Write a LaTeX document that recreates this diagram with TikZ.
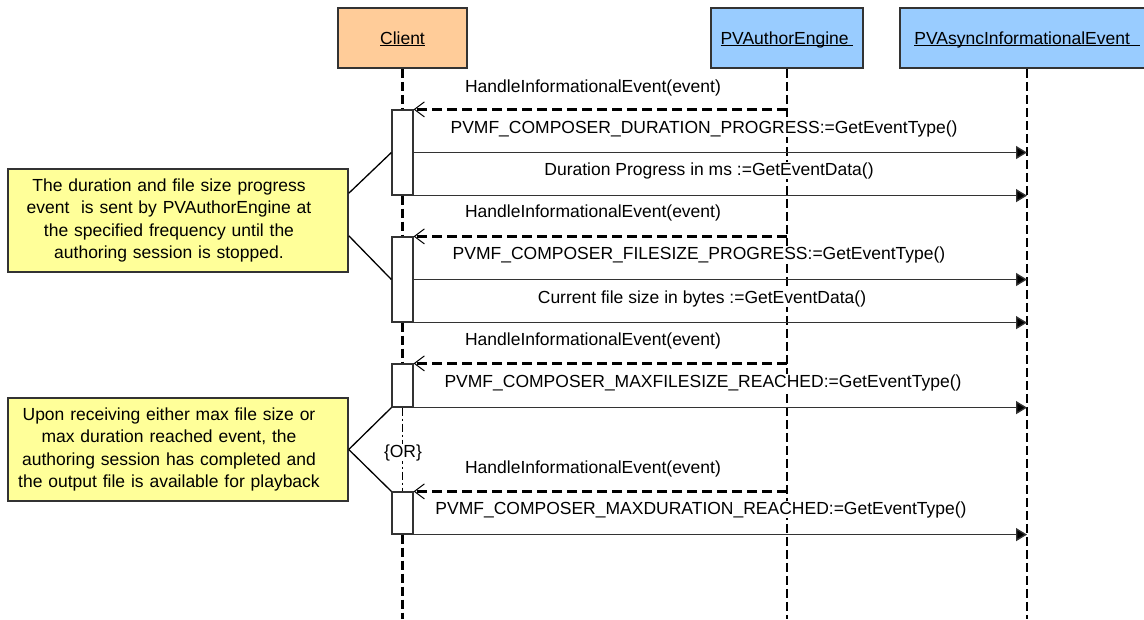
\documentclass[tikz,border=0pt]{standalone}
\usepackage{fontspec}
\setmainfont{Liberation Sans}
\usepackage{tikz}
\usetikzlibrary{arrows.meta, positioning}

\definecolor{clientorange}{HTML}{FFCC99}
\definecolor{objblue}{HTML}{99CCFF}
\definecolor{noteyellow}{HTML}{FFFF99}
\definecolor{edgegray}{HTML}{333333}

% underlined participant name, rule sits just under the baseline
\newcommand{\headname}[1]{\setbox0\hbox{#1}\rlap{\rule[-1.6pt]{\wd0}{0.9pt}}\box0}

\begin{document}
\begin{tikzpicture}[x=1pt, y=-1pt,
    font=\fontsize{17.5pt}{22.3pt}\selectfont,
    head/.style={draw=edgegray, line width=1.5pt, rectangle, minimum height=60pt, text height=12.5pt, text depth=0pt},
    act/.style={draw=edgegray, fill=white, line width=1.2pt, rectangle, minimum width=21pt, inner sep=0pt},
    note/.style={draw=edgegray, fill=noteyellow, line width=1.5pt, rectangle, minimum width=340pt, minimum height=103pt, inner sep=0pt, text width=340pt,
        execute at begin node={\parindent=0pt\leftskip=0pt plus 1fil\rightskip=18pt plus 1fil\parfillskip=0pt}},
    lbl/.style={anchor=base, inner sep=0pt, fill=white},
    life/.style={line width=2.4pt, dash pattern=on 9pt off 4pt},
    orline/.style={line width=1pt, dash pattern=on 8pt off 3pt on 2pt off 3pt},
    conn/.style={line width=1.3pt},
    ret/.style={line width=2.2pt, dash pattern=on 10pt off 5pt, -{Straight Barb[length=10pt, width=15pt, line width=1pt]}},
    call/.style={line width=1.3pt, draw=black!80, -{Triangle[length=11pt, width=13pt, fill=black]}}]

    \useasboundingbox (0,0) rectangle (1144,619);
    \clip (0,0) rectangle (1144,619);

    % Participants
    \node (client) [head, fill=clientorange, minimum width=129pt] at (402.5,38) {\headname{Client}};
    \node (aeng) [head, fill=objblue, minimum width=152pt] at (787,38) {\headname{PVAuthorEngine\ }};
    \node (async) [head, fill=objblue, minimum width=254pt] at (1027,38) {\headname{PVAsyncInformationalEvent\ \ }};
    \coordinate (bottom) at (0,619);

    % Activations on the client lifeline
    \node (act1) [act, minimum height=85pt] at (402.5,152.5) {};
    \node (act2) [act, minimum height=85pt] at (402.5,279.5) {};
    \node (act3) [act, minimum height=43pt] at (402.5,385.5) {};
    \node (act4) [act, minimum height=42pt] at (402.5,513) {};

    % Lifelines
    \foreach \a/\b in {client.south/act1.north, act1.south/act2.north, act2.south/act3.north}
        \draw[life] (\a) -- (\b);
    \draw[orline] (act3.south) -- (act4.north);
    \draw[life] (act4.south) -- (act4.south |- bottom);
    \draw[life] (aeng.south) -- (aeng.south |- bottom);
    \draw[life] (async.south) -- (async.south |- bottom);

    % Notes
    \node (note1) [note] at (178,220.5) {The duration and file size progress\\ event\ \ is sent by PVAuthorEngine at\\ the specified frequency until the\\ authoring session is stopped.};
    \node (note2) [note] at (178,449.5) {Upon receiving either max file size or\\ max duration reached event, the\\ authoring session has completed and\\ the output file is available for playback};

    \draw[conn] (note1.north east) ++(0,25) -- (act1.west);
    \draw[conn] (note1.south east) ++(0,-37) -- (act2.west);
    \draw[conn] (note2.east) -- (act3.south west);
    \draw[conn] (note2.east) -- (act4.north west);

    % Messages
    \draw[ret] (aeng |- act1.north) -- (act1.north east);
    \draw[call] (act1.east) -- (act1.east -| async);
    \draw[call] (act1.south east) -- (act1.south east -| async);
    \draw[ret] (aeng |- act2.north) -- (act2.north east);
    \draw[call] (act2.east) -- (act2.east -| async);
    \draw[call] (act2.south east) -- (act2.south east -| async);
    \draw[ret] (aeng |- act3.north) -- (act3.north east);
    \draw[call] (act3.south east) -- (act3.south east -| async);
    \draw[ret] (aeng |- act4.north) -- (act4.north east);
    \draw[call] (act4.south east) -- (act4.south east -| async);

    % Message labels
    \node (hie1) [lbl] at (593,92) {HandleInformationalEvent(event)};
    \node (durtype) [lbl] at (704,133) {PVMF\_COMPOSER\_DURATION\_PROGRESS:=GetEventType()};
    \node (durdata) [lbl] at (709,175) {Duration Progress in ms :=GetEventData()};
    \node (hie2) [lbl] at (593,217) {HandleInformationalEvent(event)};
    \node (fstype) [lbl] at (699,259) {PVMF\_COMPOSER\_FILESIZE\_PROGRESS:=GetEventType()};
    \node (fsdata) [lbl] at (702,303) {Current file size in bytes :=GetEventData()};
    \node (hie3) [lbl] at (593,345) {HandleInformationalEvent(event)};
    \node (maxfs) [lbl] at (703,387) {PVMF\_COMPOSER\_MAXFILESIZE\_REACHED:=GetEventType()};
    \node (orlbl) [lbl] at (403,457) {\{OR\}};
    \node (hie4) [lbl] at (593,473) {HandleInformationalEvent(event)};
    \node (maxdur) [lbl] at (701,514) {PVMF\_COMPOSER\_MAXDURATION\_REACHED:=GetEventType()};

\end{tikzpicture}
\end{document}
